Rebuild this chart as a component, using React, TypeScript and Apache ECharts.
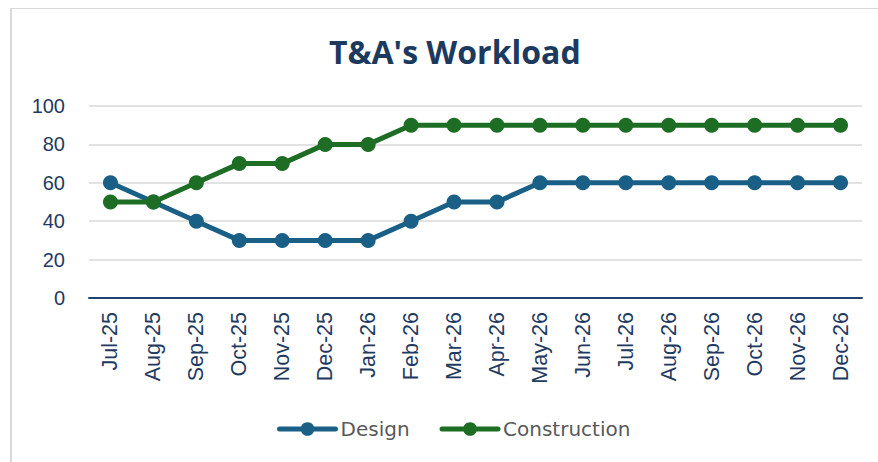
import React, { useEffect, useRef } from "react";
import * as echarts from "echarts";

const categories = ["Jul-25","Aug-25","Sep-25","Oct-25","Nov-25","Dec-25","Jan-26","Feb-26","Mar-26","Apr-26","May-26","Jun-26","Jul-26","Aug-26","Sep-26","Oct-26","Nov-26","Dec-26"];
const designValues = [60,50,40,30,30,30,30,40,50,50,60,60,60,60,60,60,60,60];
const constructionValues = [50,50,60,70,70,80,80,90,90,90,90,90,90,90,90,90,90,90];

const DESIGN = "#1A5F86";
const CONSTR = "#1E6D24";
const TEXT = "#1F3A60";

export default function App() {
  const ref = useRef<HTMLDivElement>(null);
  useEffect(() => {
    document.body.style.margin = "0";
    const chart = echarts.init(ref.current!, null, { renderer: "svg" });
    chart.setOption({
      animation: false,
      title: {
        text: "T&A's Workload",
        left: 324,
        top: 30,
        textStyle: { fontFamily: "'Open Sans', sans-serif", fontWeight: "bold", fontSize: 32, color: "#1B3A5E" },
      },
      grid: { left: 89, right: 16, top: 106, bottom: 164 },
      legend: {
        top: 414,
        left: 272,
        itemWidth: 56,
        itemHeight: 17,
        itemGap: 30,
        lineStyle: { width: 5, cap: "round" },
        textStyle: { color: "#595959", fontSize: 20, fontFamily: "'DejaVu Sans', sans-serif" },
        data: ["Design", "Construction"],
      },
      xAxis: {
        type: "category",
        data: categories,
        boundaryGap: true,
        axisLine: { lineStyle: { color: "#1F4470", width: 2 } },
        axisTick: { show: false },
        axisLabel: { rotate: 90, color: TEXT, fontSize: 21.5, margin: 14, interval: 0, fontFamily: "'Liberation Sans', Arial, sans-serif" },
      },
      yAxis: {
        type: "value",
        min: 0,
        max: 100,
        interval: 20,
        axisLine: { show: false },
        axisTick: { show: false },
        splitLine: { lineStyle: { color: "#D9D9D9", width: 1.5 } },
        axisLabel: { color: TEXT, fontSize: 20, margin: 24, fontFamily: "'Liberation Sans', Arial, sans-serif" },
      },
      series: [
        {
          name: "Design",
          type: "line",
          data: designValues,
          color: DESIGN,
          symbol: "circle",
          symbolSize: 15,
          lineStyle: { width: 5, color: DESIGN },
          itemStyle: { color: DESIGN },
        },
        {
          name: "Construction",
          type: "line",
          data: constructionValues,
          color: CONSTR,
          symbol: "circle",
          symbolSize: 15,
          lineStyle: { width: 5, color: CONSTR },
          itemStyle: { color: CONSTR },
        },
      ],
    });
    return () => chart.dispose();
  }, []);
  return (
    <div style={{ position: "absolute", left: 0, top: 0, width: 878, height: 462, background: "#fff", overflow: "hidden" }}>
      <div style={{ position: "absolute", left: 10, top: 8, width: 880, height: 470, borderLeft: "2px solid #D9D9D9", borderTop: "1.5px solid #D9D9D9", boxSizing: "border-box" }} />
      <div ref={ref} style={{ position: "absolute", left: 0, top: 0, width: 878, height: 462 }} />
    </div>
  );
}
